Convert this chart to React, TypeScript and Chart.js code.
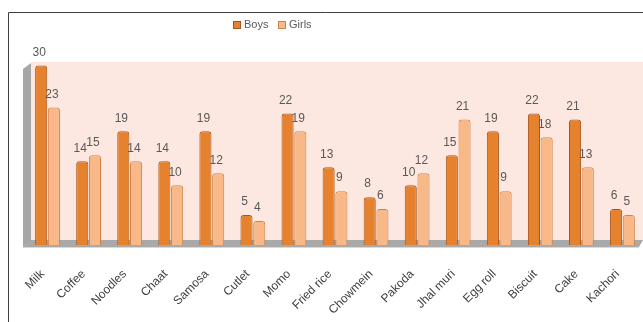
import React, { useEffect, useRef } from "react";
import { Chart, registerables } from "chart.js";

Chart.register(...registerables);

const categories = [
  "Milk", "Coffee", "Noodles", "Chaat", "Samosa", "Cutlet", "Momo", "Fried rice",
  "Chowmein", "Pakoda", "Jhal muri", "Egg roll", "Biscuit", "Cake", "Kachori",
];
const boys = [30, 14, 19, 14, 19, 5, 22, 13, 8, 10, 15, 19, 22, 21, 6];
const girls = [23, 15, 14, 10, 12, 4, 19, 9, 6, 12, 21, 9, 18, 13, 5];
const seriesNames = ["Boys", "Girls"];

const BOYS_FILL = "#E6812E";
const BOYS_EDGE = "#A9561B";
const GIRLS_FILL = "#F9B888";
const GIRLS_EDGE = "#D08348";
const FONT = "'Liberation Sans', 'DejaVu Sans', sans-serif";

const backdrop = {
  id: "backdrop",
  beforeDraw(chart: any) {
    const { ctx, chartArea } = chart;
    const { left, right, top, bottom } = chartArea;
    ctx.save();
    ctx.fillStyle = "#ffffff";
    ctx.fillRect(0, 0, chart.width, chart.height);
    // frame
    ctx.strokeStyle = "#3f3f3f";
    ctx.lineWidth = 1;
    ctx.beginPath();
    ctx.moveTo(8.5, chart.height);
    ctx.lineTo(8.5, 12.5);
    ctx.lineTo(chart.width, 12.5);
    ctx.stroke();
    // back wall
    ctx.fillStyle = "#FCE8E0";
    ctx.fillRect(left + 4, top, right - left - 4, bottom - top - 5);
    // left side wall
    ctx.fillStyle = "#A6A6A6";
    ctx.beginPath();
    ctx.moveTo(left + 4, top + 1);
    ctx.lineTo(left - 4, top + 7);
    ctx.lineTo(left - 4, bottom + 2);
    ctx.lineTo(left + 4, bottom - 4);
    ctx.closePath();
    ctx.fill();
    // floor
    ctx.fillStyle = "#A9A9A9";
    ctx.beginPath();
    ctx.moveTo(left + 4, bottom - 5);
    ctx.lineTo(right, bottom - 5);
    ctx.lineTo(right - 4, bottom + 2);
    ctx.lineTo(left - 4, bottom + 2);
    ctx.closePath();
    ctx.fill();
    ctx.fillStyle = "#D9D9D9";
    ctx.fillRect(left - 4, bottom + 2, right - left, 1);
    ctx.restore();
  },
};

const valueLabels = {
  id: "valueLabels",
  afterDatasetsDraw(chart: any) {
    const { ctx } = chart;
    ctx.save();
    ctx.font = `12px ${FONT}`;
    ctx.fillStyle = "#595959";
    ctx.textAlign = "center";
    ctx.textBaseline = "bottom";
    chart.data.datasets.forEach((ds: any, di: number) => {
      const meta = chart.getDatasetMeta(di);
      meta.data.forEach((el: any, i: number) => {
        ctx.fillText(String(ds.data[i]), el.x - 2, el.y - 7);
      });
    });
    ctx.restore();
  },
};

const customLegend = {
  id: "customLegend",
  afterDraw(chart: any) {
    const { ctx } = chart;
    ctx.save();
    ctx.font = `11px ${FONT}`;
    ctx.textBaseline = "middle";
    ctx.textAlign = "left";
    const items = [
      { name: seriesNames[0], fill: BOYS_FILL, edge: BOYS_EDGE, x: 233 },
      { name: seriesNames[1], fill: GIRLS_FILL, edge: GIRLS_EDGE, x: 278 },
    ];
    items.forEach((it) => {
      ctx.fillStyle = it.fill;
      ctx.fillRect(it.x, 21, 8, 8);
      ctx.strokeStyle = it.edge;
      ctx.lineWidth = 1;
      ctx.strokeRect(it.x + 0.5, 21.5, 7, 7);
      ctx.fillStyle = "#595959";
      ctx.fillText(it.name, it.x + 11, 25);
    });
    ctx.restore();
  },
};

export default function App() {
  const ref = useRef<HTMLCanvasElement | null>(null);

  useEffect(() => {
    if (!ref.current) return;
    const chart = new Chart(ref.current, {
      type: "bar",
      data: {
        labels: categories,
        datasets: [
          {
            label: seriesNames[0],
            data: boys,
            backgroundColor: BOYS_FILL,
            borderColor: BOYS_EDGE,
            borderWidth: 1,
            borderRadius: { topLeft: 3, topRight: 3 },
            borderSkipped: "bottom",
          },
          {
            label: seriesNames[1],
            data: girls,
            backgroundColor: GIRLS_FILL,
            borderColor: GIRLS_EDGE,
            borderWidth: 1,
            borderRadius: { topLeft: 3, topRight: 3 },
            borderSkipped: "bottom",
          },
        ],
      },
      options: {
        responsive: false,
        animation: false,
        layout: { padding: { top: 62, left: 27, right: 0, bottom: 0 } },
        plugins: {
          legend: { display: false },
          tooltip: { enabled: false },
        },
        datasets: {
          bar: { categoryPercentage: 0.62, barPercentage: 0.95 },
        },
        scales: {
          x: {
            grid: { display: false, drawTicks: false },
            border: { display: false },
            ticks: {
              minRotation: 45,
              maxRotation: 45,
              autoSkip: false,
              padding: 22,
              labelOffset: -5,
              color: "#404040",
              font: { size: 12, family: FONT },
            },
            afterFit: (scale: any) => {
              scale.height = 77;
              scale.paddingRight = 0;
              scale.paddingLeft = 0;
            },
          },
          y: {
            display: false,
            min: 0,
            max: 30.6,
          },
        },
      },
      plugins: [backdrop, valueLabels, customLegend],
    });
    return () => chart.destroy();
  }, []);

  return (
    <div style={{ position: "fixed", left: 0, top: 0, width: 643, height: 322, background: "#fff" }}>
      <canvas ref={ref} width={643} height={322} style={{ display: "block", width: 643, height: 322 }} />
    </div>
  );
}
